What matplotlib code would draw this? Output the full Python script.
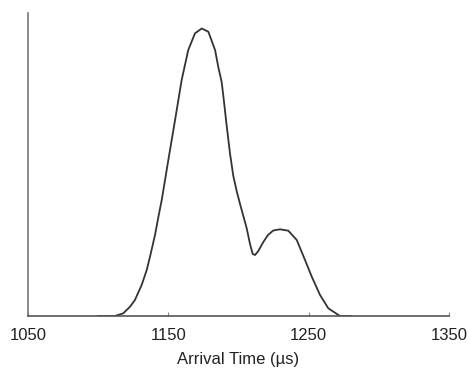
import matplotlib
matplotlib.use("Agg")
from matplotlib import pyplot as plt

# arrival time (us) and signal intensity (arbitrary units)
arrival_time = [1100, 1112.0, 1117.9, 1122.7, 1126.2, 1131.0, 1134.6, 1136.9,
                1140.5, 1142.9, 1145.3, 1150.0, 1154.8, 1159.5, 1164.2,
                1169.0, 1173.8, 1178.5, 1183.3, 1185.6, 1188.0, 1189.2,
                1191.6, 1193.9, 1196.3, 1198.7, 1201.1, 1205.8, 1208.2,
                1210.1, 1211.8, 1214.1, 1217.7, 1221.0, 1224.8, 1229.6,
                1235.5, 1241.5, 1247.4, 1252.2, 1258.1, 1264.0, 1272.3, 1280]
intensity = [0, 0, 2.7, 9.3, 16, 31, 46, 59,
             81, 99, 116, 156, 196, 236, 266,
             282.7, 287.5, 284.3, 266, 249, 234, 220,
             190, 163, 140, 125, 112, 88, 72,
             62, 61, 65, 74, 81, 85.5, 86.7,
             85.3, 76, 56, 39.3, 21, 7.7, 0, 0]

x_ticks = [1050, 1150, 1250, 1350]

plt.rcParams['font.family'] = ['Liberation Sans', 'DejaVu Sans']

fig = plt.figure(figsize=(4.7, 3.69), dpi=100)
ax = fig.add_axes([28 / 470, 53 / 369, 421 / 470, 303 / 369])

ax.plot(arrival_time, intensity, color='#333333', lw=1.3,
        solid_joinstyle='round')

ax.set_xlim(1050, 1350)
ax.set_ylim(0, 303)
ax.set_xticks(x_ticks)
ax.set_xticklabels([str(t) for t in x_ticks], fontsize=12, color='#222222')
ax.tick_params(axis='x', direction='in', length=3, width=0.8,
               color='#888888', pad=9)
ax.set_yticks([])

for side in ['top', 'right']:
    ax.spines[side].set_visible(False)
ax.spines['left'].set_color('#777777')
ax.spines['left'].set_linewidth(1.2)
ax.spines['bottom'].set_color('#555555')
ax.spines['bottom'].set_linewidth(1.2)

ax.set_xlabel('Arrival Time (µs)', fontsize=12, color='#222222', labelpad=6)

fig.savefig('out.png', dpi=100)
